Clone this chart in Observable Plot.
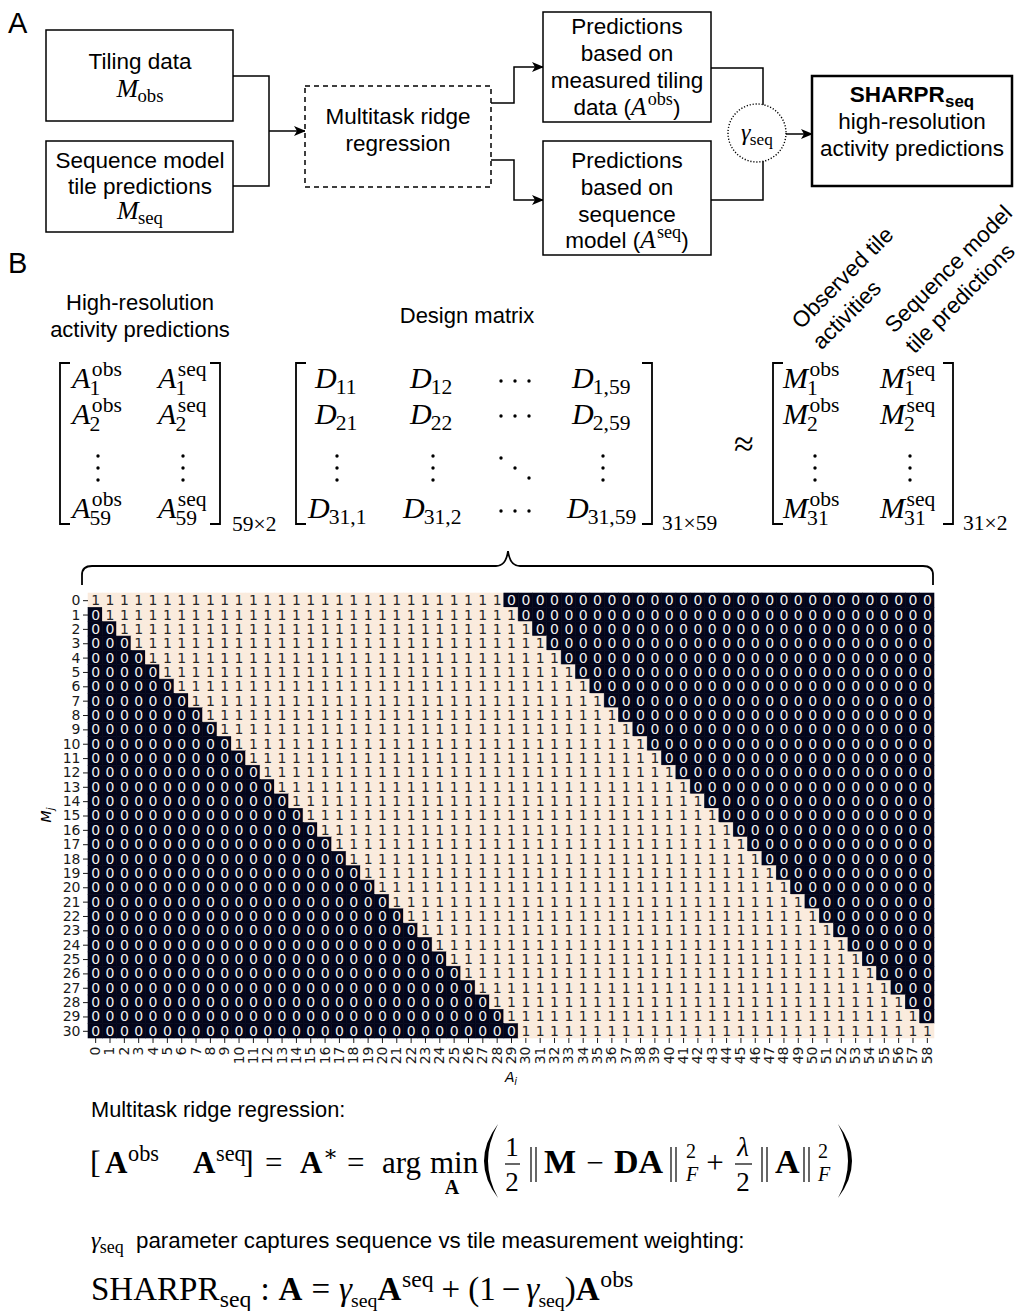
<!DOCTYPE html>
<html>
<head>
<meta charset="utf-8">
<script src="https://cdn.jsdelivr.net/npm/d3@7"></script>
<script src="https://cdn.jsdelivr.net/npm/@observablehq/plot@0.6"></script>
<style>
  html, body { margin: 0; padding: 0; background: #fff; overflow: hidden; }
  #page { position: relative; width: 1016px; height: 1311px; overflow: hidden; background: #fff; }
  #heat { position: absolute; left: 0; top: 583px; width: 1016px; height: 497px; }
  #heat svg { max-width: none !important; width: 1016px !important; height: 497px !important; display: block; }
</style>
</head>
<body>
<div id="page"><div id="heat"></div></div>
<script>
// ---- Design matrix data -------------------------------------------------
// Row index j of the tile measurements M_j
const rowIndex = [0,1,2,3,4,5,6,7,8,9,10,11,12,13,14,15,16,17,18,19,20,21,22,23,24,25,26,27,28,29,30];
// Column index i of the high-resolution positions A_i
const colIndex = [0,1,2,3,4,5,6,7,8,9,10,11,12,13,14,15,16,17,18,19,20,21,22,23,24,25,26,27,28,29,
                  30,31,32,33,34,35,36,37,38,39,40,41,42,43,44,45,46,47,48,49,50,51,52,53,54,55,56,57,58];
// First and last position covered by each tile (the run of 1s in each row)
const tileStart = [0,1,2,3,4,5,6,7,8,9,10,11,12,13,14,15,16,17,18,19,20,21,22,23,24,25,26,27,28,29,30];
const tileEnd   = [28,29,30,31,32,33,34,35,36,37,38,39,40,41,42,43,44,45,46,47,48,49,50,51,52,53,54,55,56,57,58];

const DARK = "#03051a", LIGHT = "#faebdd";
const SANS = "'Liberation Sans', Arial, Helvetica, sans-serif";
const SERIF = "'Liberation Serif', 'DejaVu Serif', serif";
const DV = "'DejaVu Sans', sans-serif";

const cells = rowIndex.flatMap((r, k) =>
  colIndex.map(c => ({row: r, col: c, v: (c >= tileStart[k] && c <= tileEnd[k]) ? 1 : 0})));

// ---- Heatmap of the design matrix ----------------------------------------
const heat = Plot.plot({
  width: 1016, height: 497,
  marginLeft: 88, marginRight: 82, marginTop: 10, marginBottom: 42,
  style: {background: "transparent", fontFamily: DV, fontSize: "14px", color: "#1a1a1a"},
  x: {type: "band", domain: colIndex, padding: 0, round: false},
  y: {type: "band", domain: rowIndex, padding: 0, round: false},
  color: {type: "ordinal", domain: [0, 1], range: [DARK, LIGHT]},
  marks: [
    Plot.cell(cells, {x: "col", y: "row", fill: "v", stroke: "v", strokeWidth: 0.6}),
    Plot.text(cells, {filter: d => d.v === 1, x: "col", y: "row", text: d => String(d.v),
                      fill: "#262626", fontSize: 14, fontFamily: DV}),
    Plot.text(cells, {filter: d => d.v === 0, x: "col", y: "row", text: d => String(d.v),
                      fill: "#f0f0f0", fontSize: 14, fontFamily: DV}),
    Plot.axisX({tickRotate: -90, tickSize: 5, tickPadding: 3, fontSize: 14, label: null}),
    Plot.axisY({tickSize: 5, tickPadding: 3, fontSize: 14, label: null})
  ]
});
document.getElementById("heat").appendChild(heat);

// ---- Diagram and equations ------------------------------------------------
const svg = d3.select("#page").append("svg")
  .attr("width", 1016).attr("height", 1311)
  .style("position", "absolute").style("left", 0).style("top", 0)
  .style("pointer-events", "none");

svg.append("defs").append("marker")
  .attr("id", "arr").attr("viewBox", "0 0 12 10").attr("refX", 11).attr("refY", 5)
  .attr("markerWidth", 12).attr("markerHeight", 10).attr("markerUnits", "userSpaceOnUse")
  .attr("orient", "auto")
  .append("path").attr("d", "M0,0 L12,5 L0,10 L3,5 Z").attr("fill", "#000");

function txt(x, y, s, {size = 22.5, anchor = "start", font = SANS, weight = null, style = null, parent = svg} = {}) {
  return parent.append("text").attr("x", x).attr("y", y).attr("text-anchor", anchor)
    .attr("font-family", font).attr("font-size", size).attr("font-weight", weight)
    .attr("font-style", style).attr("fill", "#000").text(s);
}

// Inline math: tokens are strings, numbers (gaps) or {t, f, sup, sub, s, font}
function eq(x, y, size, tokens, {anchor = "start", font = SERIF} = {}) {
  const g = svg.append("g");
  let cx = 0;
  for (const raw of tokens) {
    if (typeof raw === "number") { cx += raw; continue; }
    const t = typeof raw === "string" ? {t: raw} : raw;
    const fs = size * (t.s || 1);
    const f = t.f || "";
    const it = f.includes("i"), bd = f.includes("b");
    let w = 0;
    if (t.t !== undefined) {
      const el = g.append("text").attr("x", cx).attr("y", t.dy || 0)
        .attr("font-family", t.font || font).attr("font-size", fs)
        .attr("font-style", it ? "italic" : null).attr("font-weight", bd ? "bold" : null)
        .attr("fill", "#000").style("white-space", "pre").text(t.t);
      w = el.node().getComputedTextLength();
    }
    const ss = fs * (t.ss || 0.72);
    let w2 = 0;
    if (t.sup !== undefined) {
      const dx = it ? fs * 0.05 : 0.02 * fs;
      const el = g.append("text").attr("x", cx + w + dx).attr("y", -fs * 0.4)
        .attr("font-family", t.sfont || SERIF).attr("font-size", ss)
        .attr("font-weight", t.sb ? "bold" : null).attr("fill", "#000").text(t.sup);
      w2 = Math.max(w2, el.node().getComputedTextLength() + dx);
    }
    if (t.sub !== undefined) {
      const dx = it ? -fs * 0.03 : 0.01 * fs;
      const el = g.append("text").attr("x", cx + w + dx).attr("y", fs * (t.sup !== undefined ? 0.22 : 0.2))
        .attr("font-family", t.sfont || SERIF).attr("font-size", ss)
        .attr("font-weight", t.sb ? "bold" : null).attr("font-style", t.si ? "italic" : null)
        .attr("fill", "#000").text(t.sub);
      w2 = Math.max(w2, el.node().getComputedTextLength() + dx);
    }
    cx += w + w2;
  }
  const off = anchor === "middle" ? -cx / 2 : anchor === "end" ? -cx : 0;
  g.attr("transform", `translate(${x + off},${y})`);
  return cx;
}

function box(x, y, w, h, {sw = 1.5, dash = null} = {}) {
  svg.append("rect").attr("x", x).attr("y", y).attr("width", w).attr("height", h)
    .attr("fill", "#fff").attr("stroke", "#000").attr("stroke-width", sw)
    .attr("stroke-dasharray", dash);
}
function line(pts, arrow = false) {
  svg.append("path").attr("d", d3.line()(pts)).attr("fill", "none")
    .attr("stroke", "#000").attr("stroke-width", 1.5)
    .attr("marker-end", arrow ? "url(#arr)" : null);
}

// Panel labels
txt(8, 33, "A", {size: 29});
txt(8, 273, "B", {size: 29});

// Connectors
line([[233, 76], [269, 76], [269, 186], [233, 186]]);
line([[269, 131], [305, 131]], true);
line([[491, 103], [514, 103], [514, 67], [543, 67]], true);
line([[491, 160], [514, 160], [514, 200], [543, 200]], true);
line([[711, 68], [763, 68], [763, 105]]);
line([[711, 200], [763, 200], [763, 160]]);
line([[786, 134], [812, 134]], true);

// Input boxes
box(46, 30, 187, 91);
txt(140, 69, "Tiling data", {anchor: "middle"});
eq(140, 97, 26, [{t: "M", f: "i", sub: "obs"}], {anchor: "middle"});

box(46, 141, 187, 91);
txt(140, 168, "Sequence model", {anchor: "middle"});
txt(140, 194, "tile predictions", {anchor: "middle"});
eq(140, 219, 26, [{t: "M", f: "i", sub: "seq"}], {anchor: "middle"});

// Regression box
box(305, 86, 186, 101, {dash: "5,4"});
txt(398, 124, "Multitask ridge", {anchor: "middle"});
txt(398, 151, "regression", {anchor: "middle"});

// Prediction boxes
box(543, 12, 168, 110);
txt(627, 34, "Predictions", {anchor: "middle"});
txt(627, 61, "based on", {anchor: "middle"});
txt(627, 88, "measured tiling", {anchor: "middle"});
eq(627, 115, 22.5, [{t: "data (", font: SANS}, {t: "A", f: "i", s: 1.12, sup: "obs"}, {t: ")", font: SANS}], {anchor: "middle"});

box(543, 141, 168, 114);
txt(627, 168, "Predictions", {anchor: "middle"});
txt(627, 195, "based on", {anchor: "middle"});
txt(627, 222, "sequence", {anchor: "middle"});
eq(627, 248, 22.5, [{t: "model (", font: SANS}, {t: "A", f: "i", s: 1.12, sup: "seq"}, {t: ")", font: SANS}], {anchor: "middle"});

// Weighting node
svg.append("circle").attr("cx", 757).attr("cy", 133).attr("r", 29)
  .attr("fill", "#fff").attr("stroke", "#000").attr("stroke-width", 1.4)
  .attr("stroke-dasharray", "1.2,1.8");
eq(757, 140, 24, [{t: "γ", f: "i", sub: "seq"}], {anchor: "middle"});

// Output box
box(812, 76, 200, 110, {sw: 2.5});
eq(912, 102, 22.5, [{t: "SHARPR", f: "b", font: SANS, sub: "seq", sfont: SANS, sb: true, ss: 0.75}], {anchor: "middle"});
txt(912, 129, "high-resolution", {anchor: "middle"});
txt(912, 156, "activity predictions", {anchor: "middle"});

// ---- Panel B headers ------------------------------------------------------
txt(140, 310, "High-resolution", {anchor: "middle", size: 22});
txt(140, 337, "activity predictions", {anchor: "middle", size: 22});
txt(467, 323, "Design matrix", {anchor: "middle", size: 22});

function rotLabel(x, y, lines) {
  const g = svg.append("g").attr("transform", `translate(${x},${y}) rotate(-45)`);
  lines.forEach((l, i) => txt(0, i * 29, l, {parent: g, size: 22.5}));
}
rotLabel(801, 330, ["Observed tile", "activities"]);
rotLabel(894, 334, ["Sequence model", "tile predictions"]);

// ---- Matrix equation --------------------------------------------------------
function bracket(x, top, bot, dir) {
  const s = 10 * dir;
  svg.append("path").attr("d", `M${x + s},${top} H${x} V${bot} H${x + s}`)
    .attr("fill", "none").attr("stroke", "#000").attr("stroke-width", 1.8);
}
function vdots(x) { [456, 468, 480].forEach(y => svg.append("circle").attr("cx", x).attr("cy", y).attr("r", 1.7)); }
function cdots(y) { [501, 515, 529].forEach(x => svg.append("circle").attr("cx", x).attr("cy", y).attr("r", 1.7)); }

const MS = 30, R1 = 388, R2 = 424, RN = 518;

// A (59 x 2)
bracket(60, 363, 524, 1); bracket(220, 363, 524, -1);
[[R1, "1"], [R2, "2"], [RN, "59"]].forEach(([y, k]) => {
  eq(72, y, MS, [{t: "A", f: "i", sup: "obs", sub: k}]);
  eq(158, y, MS, [{t: "A", f: "i", sup: "seq", sub: k}]);
});
vdots(98); vdots(183);
eq(232, 531, 21.5, ["59×2"]);

// D (31 x 59)
bracket(296, 363, 524, 1); bracket(652, 363, 524, -1);
[[315, R1, "11"], [410, R1, "12"], [572, R1, "1,59"],
 [315, R2, "21"], [410, R2, "22"], [572, R2, "2,59"],
 [308, RN, "31,1"], [403, RN, "31,2"], [567, RN, "31,59"]]
  .forEach(([x, y, k]) => eq(x, y, MS, [{t: "D", f: "i", sub: k}]));
vdots(337); vdots(433); vdots(603);
cdots(381); cdots(416); cdots(511);
[[501, 458], [515, 468], [529, 478]].forEach(([x, y]) => svg.append("circle").attr("cx", x).attr("cy", y).attr("r", 1.7));
eq(662, 530, 21.5, ["31×59"]);

txt(744, 456, "≈", {anchor: "middle", size: 36, font: SERIF});

// M (31 x 2)
bracket(773, 363, 524, 1); bracket(953, 363, 524, -1);
[[R1, "1"], [R2, "2"], [RN, "31"]].forEach(([y, k]) => {
  eq(783, y, MS, [{t: "M", f: "i", sup: "obs", sub: k}]);
  eq(880, y, MS, [{t: "M", f: "i", sup: "seq", sub: k}]);
});
vdots(815); vdots(910);
eq(963, 530, 21.5, ["31×2"]);

// Brace linking the design matrix to its heatmap
svg.append("path")
  .attr("d", "M82,585 V575 Q82,566 92,566 H496 Q506,566 508,551 Q510,566 520,566 H923 Q933,566 933,575 V585")
  .attr("fill", "none").attr("stroke", "#000").attr("stroke-width", 1.8);

// Heatmap axis titles
eq(511, 1082, 14, [{t: "A", f: "i", font: DV, sub: "i", sfont: DV, si: true}], {anchor: "middle", font: DV});
{
  const g = svg.append("g").attr("transform", "translate(51,815) rotate(-90)");
  const t = g.append("text").attr("text-anchor", "middle").attr("font-family", DV)
    .attr("font-size", 14).attr("font-style", "italic");
  t.append("tspan").text("M");
  t.append("tspan").attr("font-size", 10).attr("dy", 3).text("j");
}

// ---- Objective and weighting ------------------------------------------------
txt(91, 1117, "Multitask ridge regression:", {size: 21.8});

const F1 = 1173, FS = 31;
function norm(x) {
  [x, x + 5].forEach(xx => svg.append("line").attr("x1", xx).attr("x2", xx)
    .attr("y1", 1147).attr("y2", 1182).attr("stroke", "#000").attr("stroke-width", 1.2));
}
txt(90, F1, "[", {font: SERIF, size: 32});
eq(105, F1, FS, [{t: "A", f: "b", sup: "obs"}]);
eq(193, F1, FS, [{t: "A", f: "b", sup: "seq"}]);
txt(243, F1, "]", {font: SERIF, size: 32});
txt(265, F1, "=", {font: SERIF, size: FS});
eq(300, F1, FS, [{t: "A", f: "b", sup: "∗"}]);
txt(347, F1, "=", {font: SERIF, size: FS});
txt(382, F1, "arg", {font: SERIF, size: FS});
txt(430, F1, "min", {font: SERIF, size: FS});
txt(452, 1194, "A", {font: SERIF, size: 20, weight: "bold", anchor: "middle"});
svg.append("path").attr("d", "M498,1124 Q470,1161 498,1198 Q478,1161 498,1124 Z").attr("fill", "#000");
svg.append("path").attr("d", "M838,1124 Q866,1161 838,1198 Q858,1161 838,1124 Z").attr("fill", "#000");
txt(512, 1156, "1", {font: SERIF, size: 27, anchor: "middle"});
svg.append("line").attr("x1", 505).attr("x2", 520).attr("y1", 1164).attr("y2", 1164).attr("stroke", "#000").attr("stroke-width", 1.2);
txt(512, 1191, "2", {font: SERIF, size: 27, anchor: "middle"});
norm(531);
txt(544, F1, "M", {font: SERIF, size: 34, weight: "bold"});
txt(595, F1, "−", {font: SERIF, size: FS, anchor: "middle"});
txt(614, F1, "DA", {font: SERIF, size: 34, weight: "bold"});
norm(671);
txt(686, 1158, "2", {font: SERIF, size: 20});
txt(686, 1181, "F", {font: SERIF, size: 20, style: "italic"});
txt(715, F1, "+", {font: SERIF, size: FS, anchor: "middle"});
txt(743, 1156, "λ", {font: SERIF, size: 27, anchor: "middle", style: "italic"});
svg.append("line").attr("x1", 735).attr("x2", 752).attr("y1", 1164).attr("y2", 1164).attr("stroke", "#000").attr("stroke-width", 1.2);
txt(743, 1191, "2", {font: SERIF, size: 27, anchor: "middle"});
norm(762);
txt(775, F1, "A", {font: SERIF, size: 34, weight: "bold"});
norm(804);
txt(818, 1158, "2", {font: SERIF, size: 20});
txt(818, 1181, "F", {font: SERIF, size: 20, style: "italic"});

eq(91, 1248, 24, [{t: "γ", f: "i", sub: "seq", ss: 0.75}]);
txt(136, 1248, "parameter captures sequence vs tile measurement weighting:", {size: 22.3});

eq(91, 1300, 33, [{t: "SHARPR", sub: "seq"}, 9, ":", 9, {t: "A", f: "b"}, 9, "=", 9,
  {t: "γ", f: "i", sub: "seq", ss: 0.6}, {t: "A", f: "b", sup: "seq"}, 8, "+", 8, "(1", 6, "−", 6,
  {t: "γ", f: "i", sub: "seq", ss: 0.6}, ")", {t: "A", f: "b", sup: "obs"}]);
</script>
</body>
</html>
